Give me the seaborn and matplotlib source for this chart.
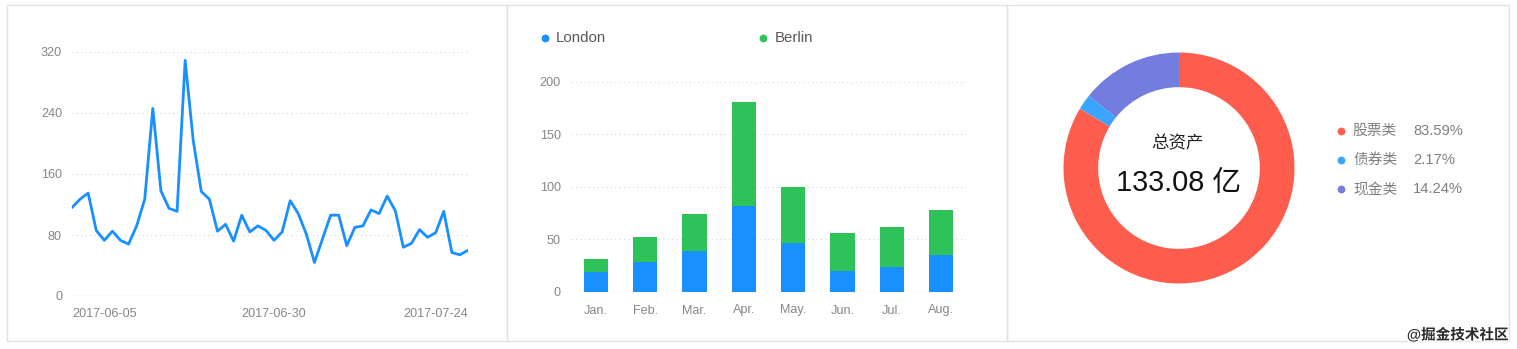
import matplotlib
matplotlib.use("Agg")
import matplotlib.pyplot as plt
import seaborn as sns
import numpy as np
import pandas as pd
from matplotlib.patches import Rectangle
from matplotlib.lines import Line2D
import matplotlib.patheffects as pe

# ---------------- data ----------------
line_start = "2017-06-05"
line_values = [116, 127, 135, 86, 73, 85, 73, 68, 92, 127,
               246, 138, 115, 111, 309, 204, 137, 127, 85, 94,
               72, 106, 84, 92, 86, 73, 84, 125, 108, 81,
               44, 75, 106, 106, 66, 90, 92, 113, 108, 131,
               112, 64, 69, 87, 77, 83, 111, 57, 54, 60]
line_ticks = ["2017-06-05", "2017-06-30", "2017-07-24"]
line_yticks = [0, 80, 160, 240, 320]

months = ["Jan.", "Feb.", "Mar.", "Apr.", "May.", "Jun.", "Jul.", "Aug."]
london = [18.9, 28.8, 39.3, 81.4, 47.0, 20.3, 24.0, 35.6]
berlin = [12.4, 23.2, 34.5, 99.7, 52.6, 35.5, 37.4, 42.4]
bar_yticks = [0, 50, 100, 150, 200]
bar_series = ["London", "Berlin"]

asset_names = ["股票类", "债券类", "现金类"]
asset_pcts = [83.59, 2.17, 14.24]
asset_total_label = "总资产"
asset_total_value = "133.08 亿"
watermark = "@掘金技术社区"

# ---------------- style ----------------
BLUE = "#1890FF"
GREEN = "#2FC25B"
PIE_COLORS = ["#FE5D4D", "#3BA4FF", "#737DDE"]
TICK = "#878787"
GRID = "#dcdcdc"

sns.set_style("white")
plt.rcParams["font.family"] = ["Liberation Sans", "Noto Sans CJK SC", "DejaVu Sans"]

W, H = 1517, 349
fig = plt.figure(figsize=(W / 100, H / 100), dpi=100)
fig.patch.set_facecolor("white")


def ax_px(left, top, right, bottom):
    return fig.add_axes([left / W, 1 - bottom / H, (right - left) / W, (bottom - top) / H])


# panel borders
for (l, r) in [(7, 507), (507, 1007), (1007, 1509)]:
    fig.add_artist(Rectangle((l / W, 1 - 341 / H), (r - l) / W, 336 / H,
                             transform=fig.transFigure, fill=False,
                             edgecolor="#e2e2e2", linewidth=1.0))

# ---------------- line chart ----------------
ax1 = ax_px(72, 52, 468, 296)
dates = pd.date_range(line_start, periods=len(line_values), freq="D")
df_line = pd.DataFrame({"date": dates, "value": line_values})
sns.lineplot(data=df_line, x="date", y="value", ax=ax1, color=BLUE, linewidth=2.0)
ax1.set_xlim(dates[0], dates[-1])
ax1.set_ylim(0, 320)
ax1.set_yticks(line_yticks)
ax1.set_yticklabels([str(v) for v in line_yticks])
tick_dates = pd.to_datetime(line_ticks)
ax1.set_xticks(tick_dates)
ax1.set_xticklabels(line_ticks)
for lab, ha in zip(ax1.get_xticklabels(), ["left", "center", "right"]):
    lab.set_horizontalalignment(ha)
for v in line_yticks[1:]:
    ax1.axhline(v, color=GRID, linewidth=0.9, linestyle=(0, (1, 2.5)), zorder=0)
ax1.axhline(0, color="#e8e8e8", linewidth=1.0, zorder=0)
ax1.set_xlabel("")
ax1.set_ylabel("")
for s in ax1.spines.values():
    s.set_visible(False)
ax1.tick_params(axis="y", length=0, pad=7.2, labelsize=9.1, labelcolor=TICK)
ax1.tick_params(axis="x", length=0, pad=8.3, labelsize=9.1, labelcolor=TICK)
ax1.patch.set_alpha(0)

# ---------------- stacked bar chart ----------------
ax2 = ax_px(571, 81.7, 966, 292)
totals = [a + b for a, b in zip(london, berlin)]
df_bar = pd.DataFrame({"month": months, "London": london, "Total": totals})
sns.barplot(data=df_bar, x="month", y="Total", ax=ax2, color=GREEN,
            width=0.49, saturation=1, linewidth=0, zorder=2)
sns.barplot(data=df_bar, x="month", y="London", ax=ax2, color=BLUE,
            width=0.49, saturation=1, linewidth=0, zorder=3)
ax2.set_xlim(-0.5, len(months) - 0.5)
ax2.set_ylim(0, 200)
ax2.set_yticks(bar_yticks)
ax2.set_yticklabels([str(v) for v in bar_yticks])
for v in bar_yticks[1:]:
    ax2.axhline(v, color=GRID, linewidth=0.9, linestyle=(0, (1, 2.5)), zorder=0)
ax2.axhline(0, color="#e8e8e8", linewidth=1.0, zorder=1)
ax2.set_xlabel("")
ax2.set_ylabel("")
for s in ax2.spines.values():
    s.set_visible(False)
ax2.tick_params(axis="y", length=0, pad=7.2, labelsize=9.1, labelcolor=TICK)
ax2.tick_params(axis="x", length=0, pad=9.0, labelsize=9.1, labelcolor=TICK)
ax2.patch.set_alpha(0)

# bar legend
for name, col, dx, tx in zip(bar_series, [BLUE, GREEN], [545, 763], [556, 775]):
    fig.add_artist(Line2D([dx / W], [1 - 37.7 / H], marker="o", markersize=4.6,
                          color=col, linestyle="none", transform=fig.transFigure))
    fig.text(tx / W, 1 - 38 / H, name, ha="left", va="center",
             fontsize=10.8, color="#595959")

# ---------------- donut ----------------
ax3 = ax_px(1179 - 115.5, 168 - 115.5, 1179 + 115.5, 168 + 115.5)
ax3.pie(asset_pcts, colors=PIE_COLORS, startangle=90, counterclock=False,
        radius=1.0, wedgeprops=dict(width=0.30, linewidth=0))
ax3.set_xlim(-1, 1)
ax3.set_ylim(-1, 1)
ax3.set_aspect("equal")
ax3.axis("off")
fig.text(1177 / W, 1 - 143.5 / H, asset_total_label, ha="center", va="center",
         fontsize=12.6, color="#222222")
fig.text(1179 / W, 1 - 183 / H, asset_total_value, ha="center", va="center",
         fontsize=20.8, color="#111111")

# donut legend
for i, (name, pct, col) in enumerate(zip(asset_names, asset_pcts, PIE_COLORS)):
    y = 130.7 + i * 29.3
    fig.add_artist(Line2D([1341 / W], [1 - y / H], marker="o", markersize=4.6,
                          color=col, linestyle="none", transform=fig.transFigure))
    fig.text(1353 / W, 1 - y / H, name, ha="left", va="center",
             fontsize=10.6, color="#808080")
    fig.text(1413 / W, 1 - y / H, f"{pct:.2f}%", ha="left", va="center",
             fontsize=10.6, color="#808080")

# watermark
fig.text(1509 / W, 1 - 335 / H, watermark, ha="right", va="center",
         fontsize=10.5, color="#2a2a2a", fontweight="bold",
         path_effects=[pe.withStroke(linewidth=2, foreground="white")])

fig.savefig("out.png", dpi=100, facecolor="white")
